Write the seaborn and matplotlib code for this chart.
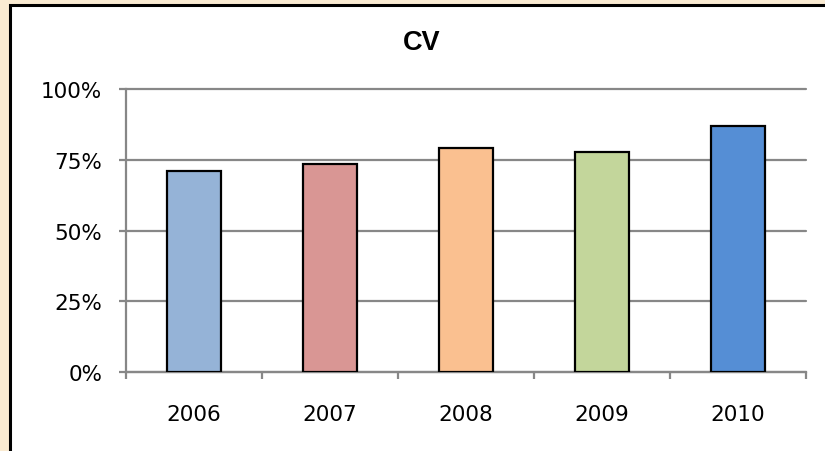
import matplotlib
matplotlib.use("Agg")
import matplotlib.pyplot as plt
import seaborn as sns
import pandas as pd
from matplotlib.patches import Rectangle
from matplotlib.ticker import FixedLocator

years = ["2006", "2007", "2008", "2009", "2010"]
cv_values = [71.0, 73.6, 79.2, 77.9, 87.1]
bar_colors = ["#95B3D7", "#D99694", "#FAC090", "#C3D69B", "#558ED5"]
y_ticks = [0, 25, 50, 75, 100]
y_labels = ["0%", "25%", "50%", "75%", "100%"]

df = pd.DataFrame({"year": years, "cv": cv_values})

sns.set_style("white")
plt.rcParams["font.family"] = ["DejaVu Sans"]
plt.rcParams["text.color"] = "black"

W, H = 825, 452
fig = plt.figure(figsize=(W / 100, H / 100), dpi=100)
fig.patch.set_facecolor("#FAEBD2")
fig.patches.append(Rectangle((10 / W, -0.01), (W - 10) / W + 0.01, (H - 6) / H + 0.01,
                             transform=fig.transFigure, facecolor="white",
                             edgecolor="black", linewidth=2.2, zorder=-10))

ax = fig.add_axes([126 / W, (H - 373) / H, 680 / W, 283 / H])
ax.set_facecolor("none")

sns.barplot(data=df, x="year", y="cv", hue="year", palette=bar_colors,
            saturation=1, width=0.4, edgecolor="black", linewidth=1.6,
            legend=False, ax=ax, zorder=3)

ax.set_xlim(-0.5, 4.5)
ax.set_ylim(0, 100)
ax.set_yticks(y_ticks)
ax.set_yticklabels(y_labels)
ax.yaxis.grid(True, color="#878787", linewidth=1.6, zorder=0)
ax.set_axisbelow(True)
for gl in ax.get_ygridlines():
    gl.set_clip_on(False)

ax.xaxis.set_minor_locator(FixedLocator([-0.5, 0.5, 1.5, 2.5, 3.5, 4.5]))
ax.tick_params(axis="x", which="both", bottom=True)
ax.tick_params(axis="y", which="both", left=True)
ax.tick_params(axis="x", which="major", length=0, pad=23, labelsize=15.5, labelcolor="black")
ax.tick_params(axis="x", which="minor", length=5, width=1.6, color="#878787", direction="out")
ax.tick_params(axis="y", which="major", length=5, width=1.6, color="#878787",
               direction="out", pad=12, labelsize=15.5, labelcolor="black")

for s in ["top", "right"]:
    ax.spines[s].set_visible(False)
for s in ["left", "bottom"]:
    ax.spines[s].set_color("#878787")
    ax.spines[s].set_linewidth(1.6)

ax.set_xlabel("")
ax.set_ylabel("")

fig.text(422 / W, 1 - 43 / H, "CV", ha="center", va="center", color="black",
         fontsize=19.5, fontweight="bold", family=["Liberation Sans", "DejaVu Sans"])

fig.savefig("out.png", dpi=100, facecolor=fig.get_facecolor())
